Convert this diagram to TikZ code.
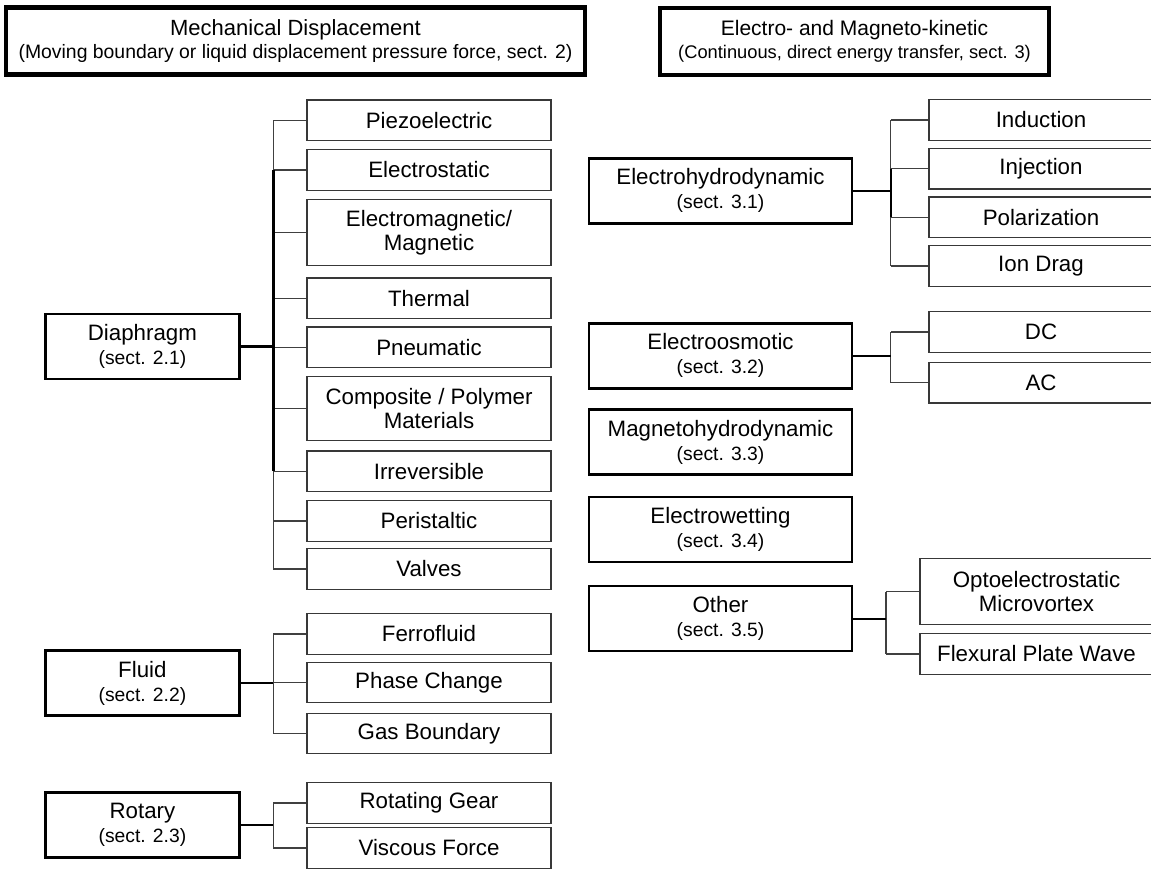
\documentclass[tikz,border=0pt]{standalone}
\usepackage{fontspec}
\setmainfont{Liberation Sans}
\newcommand{\bigf}{\fontsize{22.3}{24}\selectfont}
\newcommand{\headf}{\fontsize{22}{23}\selectfont}
\newcommand{\headrf}{\fontsize{21}{23}\selectfont}
\newcommand{\smallf}{\fontsize{19.3}{24}\selectfont}
\newcommand{\subf}{\fontsize{19.4}{23}\selectfont}
\newcommand{\subrf}{\fontsize{18.3}{23}\selectfont}
\tikzset{
  head/.style={draw=black, line width=4.5pt, inner sep=0pt, align=center, minimum width=#1},
  parbox/.style={draw=black, line width=2.5pt, inner sep=0pt, align=center, font=\bigf, minimum height=65pt, minimum width=#1},
  kid/.style={draw=black!78, line width=1.3pt, inner sep=0pt, align=center, font=\bigf, minimum height=40.5pt, minimum width=#1},
  kidtall/.style={kid=#1, minimum height=66pt},
  pline/.style={draw=black, line width=2.3pt},
  bline/.style={draw=black!75, line width=1.3pt},
  tline/.style={draw=black, line width=2.3pt},
}
\begin{document}
\begin{tikzpicture}[x=1pt,y=-1pt]
\useasboundingbox (0,0) rectangle (1151,869);
\clip (0,0) rectangle (1151,869);
% headers
\node[head=579pt, minimum height=67pt, font=\headf] (hl) at (295.5,41) {Mechanical Displacement\\{\subf (Moving boundary or liquid displacement pressure force, sect. 2)}};
\node[head=389pt, minimum height=67pt, font=\headrf] (hr) at (854.5,41.5) {Electro- and Magneto-kinetic\\{\subrf (Continuous, direct energy transfer, sect. 3)}};

% left parents
\node[parbox=194pt] (dia) at (142.4,346.4) {Diaphragm\\{\smallf (sect. 2.1)}};
\node[parbox=194pt] (flu) at (142.4,683) {Fluid\\{\smallf (sect. 2.2)}};
\node[parbox=194pt] (rot) at (142.4,825) {Rotary\\{\smallf (sect. 2.3)}};

% diaphragm kids
\node[kid=244pt] (piezo) at (429,120.4) {Piezoelectric};
\node[kid=244pt] (estat) at (429,170) {Electrostatic};
\node[kidtall=244pt] (emag) at (429,232.7) {Electromagnetic/\\Magnetic};
\node[kid=244pt] (therm) at (429,298.2) {Thermal};
\node[kid=244pt] (pneu) at (429,347.3) {Pneumatic};
\node[kidtall=244pt, minimum height=63.5pt] (comp) at (429,408.5) {Composite / Polymer\\Materials};
\node[kid=244pt] (irr) at (429,471.3) {Irreversible};
\node[kid=244pt] (peri) at (429,521) {Peristaltic};
\node[kid=244pt] (valv) at (429,569) {Valves};
% fluid kids
\node[kid=244pt] (ferro) at (429,634) {Ferrofluid};
\node[kid=244pt] (phase) at (429,682.5) {Phase Change};
\node[kid=244pt] (gas) at (429,733.5) {Gas Boundary};
% rotary kids
\node[kid=244pt] (gear) at (429,803) {Rotating Gear};
\node[kid=244pt] (visc) at (429,848) {Viscous Force};

% right parents
\node[parbox=263pt] (ehd) at (720.5,190.8) {Electrohydrodynamic\\{\smallf (sect. 3.1)}};
\node[parbox=263pt] (eo) at (720.5,355.8) {Electroosmotic\\{\smallf (sect. 3.2)}};
\node[parbox=263pt] (mhd) at (720.5,442) {Magnetohydrodynamic\\{\smallf (sect. 3.3)}};
\node[parbox=263pt] (ew) at (720.5,529.3) {Electrowetting\\{\smallf (sect. 3.4)}};
\node[parbox=263pt] (oth) at (720.5,618.7) {Other\\{\smallf (sect. 3.5)}};

% right kids
\node[kid=224pt] (ind) at (1041,120) {Induction};
\node[kid=224pt] (inj) at (1041,168.8) {Injection};
\node[kid=224pt] (pol) at (1041,217.2) {Polarization};
\node[kid=224pt] (ion) at (1041,266) {Ion Drag};
\node[kid=224pt] (dc) at (1041,332) {DC};
\node[kid=224pt] (ac) at (1041,382.7) {AC};
\node[kidtall=233pt] (opto) at (1036.5,591.7) {Optoelectrostatic\\Microvortex};
\node[kid=233pt] (flex) at (1036.5,654) {Flexural Plate Wave};

% trunk coordinates
\coordinate (tD) at (273.4,346.4);
\coordinate (tF) at (273.4,683);
\coordinate (tR) at (273.4,825);
\coordinate (tE) at (890.7,190.8);
\coordinate (tO) at (890.7,355.8);
\coordinate (tX) at (886,618.7);

% Diaphragm
\foreach \k in {piezo,estat,emag,therm,pneu,comp,irr,peri,valv} \draw[bline] (\k.west) -- (\k.west -| tD);
\draw[bline] (piezo.west -| tD) -- (valv.west -| tD);
\draw[tline] (estat.west -| tD) -- (irr.west -| tD);
\draw[pline] (dia.east) -- (tD);
% Fluid
\foreach \k in {ferro,phase,gas} \draw[bline] (\k.west) -- (\k.west -| tF);
\draw[bline] (ferro.west -| tF) -- (gas.west -| tF);
\draw[pline] (flu.east) -- (tF);
% Rotary
\foreach \k in {gear,visc} \draw[bline] (\k.west) -- (\k.west -| tR);
\draw[bline] (gear.west -| tR) -- (visc.west -| tR);
\draw[pline] (rot.east) -- (tR);
% EHD
\foreach \k in {ind,inj,pol,ion} \draw[bline] (\k.west) -- (\k.west -| tE);
\draw[bline] (ind.west -| tE) -- (ion.west -| tE);
\draw[tline] (inj.west -| tE) -- (pol.west -| tE);
\draw[pline] (ehd.east) -- (tE);
% EO
\foreach \k in {dc,ac} \draw[bline] (\k.west) -- (\k.west -| tO);
\draw[bline] (dc.west -| tO) -- (ac.west -| tO);
\draw[pline] (eo.east) -- (tO);
% Other
\foreach \k in {opto,flex} \draw[bline] (\k.west) -- (\k.west -| tX);
\draw[bline] (opto.west -| tX) -- (flex.west -| tX);
\draw[pline] (oth.east) -- (tX);
\end{tikzpicture}
\end{document}
